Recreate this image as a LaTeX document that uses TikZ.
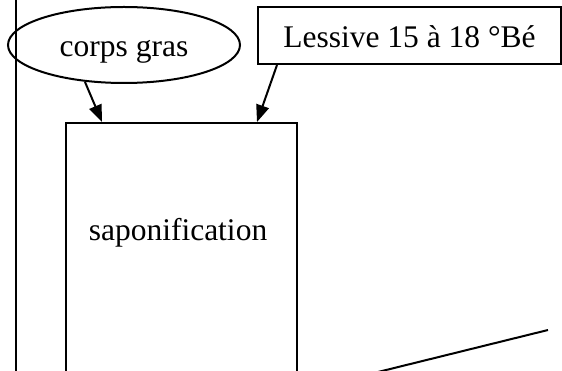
\documentclass[tikz,border=0pt]{standalone}
\usepackage{fontspec}
\setmainfont{Liberation Serif}
\usetikzlibrary{shapes.geometric,arrows.meta,calc}
\begin{document}
\begin{tikzpicture}[x=1pt,y=-1pt,
  lw/.style={line width=2pt},
  arr/.style={lw,-{Triangle[length=17pt,width=13pt]}},
  txt/.style={font=\fontsize{31.5pt}{36pt}\selectfont},
  boxnode/.style={draw,lw,rectangle,inner sep=0pt}]
\useasboundingbox (0,0) rectangle (562,371);
\clip (0,0) rectangle (562,371);
\fill[white] (0,0) rectangle (562,371);
% left frame line
\draw[lw] (15.5,-5) -- (15.5,380);
% nodes
\node[draw,lw,ellipse,inner sep=0pt,minimum width=232pt,minimum height=76pt,txt,text height=25pt,text depth=2pt] (cg) at (124,45) {corps gras};
\node[boxnode,minimum width=303pt,minimum height=57pt,txt,text height=27pt,text depth=3pt] (les) at (409.5,35.5) {Lessive 15 à 18 °Bé};
\node[boxnode,minimum width=231pt,minimum height=300pt] (sap) at (181.5,273) {};
\node[txt,anchor=base] (saptext) at (178,241) {saponification};
% arrows
\coordinate (a1) at ($(sap.north west)+(37,0)$);
\coordinate (a2) at ($(sap.north west)+(192,0)$);
\coordinate (s1) at (85,82);
\coordinate (s2) at ($(les.south west)+(20,0)$);
\draw[arr] (s1) -- (a1);
\draw[arr] (s2) -- (a2);
% partial diagonal line
\draw[lw] (548,330) -- (378,372);
\end{tikzpicture}
\end{document}
